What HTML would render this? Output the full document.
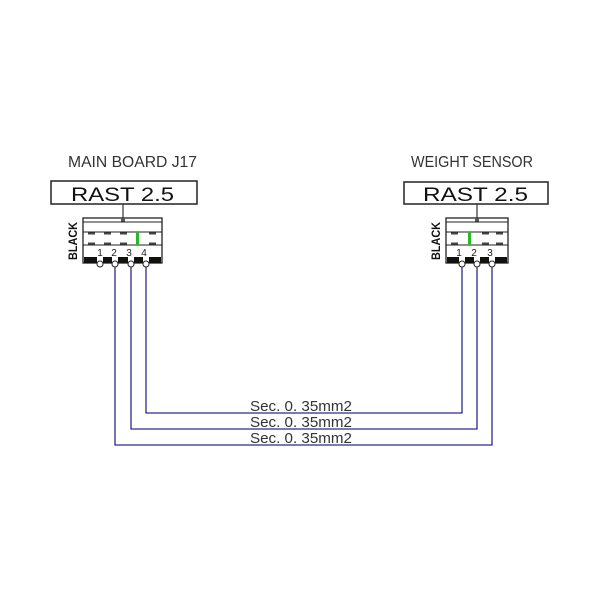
<!DOCTYPE html>
<html><head><meta charset="utf-8"><style>
html,body{margin:0;padding:0;background:#fff;}
svg{display:block;}
text{font-family:"Liberation Sans",sans-serif;}
</style></head><body>
<svg width="600" height="600" viewBox="0 0 600 600" xmlns="http://www.w3.org/2000/svg">
<rect width="600" height="600" fill="#fff"/>
<!-- titles -->
<text x="68" y="167" font-size="16" fill="#333" textLength="129" lengthAdjust="spacingAndGlyphs">MAIN BOARD J17</text>
<text x="411" y="167" font-size="16" fill="#333" textLength="122" lengthAdjust="spacingAndGlyphs">WEIGHT SENSOR</text>
<!-- RAST boxes -->
<rect x="51" y="181" width="146" height="23" fill="#fff" stroke="#222" stroke-width="1.5"/>
<text x="71" y="201" font-size="19" fill="#111" textLength="103" lengthAdjust="spacingAndGlyphs">RAST 2.5</text>
<rect x="404" y="182" width="144" height="22" fill="#fff" stroke="#222" stroke-width="1.5"/>
<text x="423" y="201" font-size="19" fill="#111" textLength="105" lengthAdjust="spacingAndGlyphs">RAST 2.5</text>
<!-- left connector -->
<line x1="123" y1="204" x2="123" y2="218" stroke="#333" stroke-width="1.2"/>
<rect x="83" y="218" width="79" height="45" fill="#fff" stroke="#222" stroke-width="1.3"/>
<rect x="121" y="218" width="4" height="4" fill="#555"/>
<line x1="83" y1="222" x2="162" y2="222" stroke="#222" stroke-width="1"/>
<line x1="83" y1="232" x2="162" y2="232" stroke="#222" stroke-width="1"/>
<line x1="83" y1="245" x2="162" y2="245" stroke="#222" stroke-width="1"/>
<g stroke="#444" stroke-width="2">
<line x1="88" y1="233.5" x2="95" y2="233.5"/><line x1="104" y1="233.5" x2="111" y2="233.5"/><line x1="120" y1="233.5" x2="127" y2="233.5"/><line x1="149" y1="233.5" x2="156" y2="233.5"/>
<line x1="88" y1="243.5" x2="95" y2="243.5"/><line x1="104" y1="243.5" x2="111" y2="243.5"/><line x1="120" y1="243.5" x2="127" y2="243.5"/><line x1="149" y1="243.5" x2="156" y2="243.5"/>
</g>
<rect x="136" y="232" width="3" height="13" fill="#2db52d"/>
<g font-family="Liberation Serif,serif" font-size="10" fill="#222" text-anchor="middle">
<text x="100" y="256">1</text><text x="114" y="256">2</text><text x="129" y="256">3</text><text x="144" y="256">4</text>
</g>
<rect x="84" y="257" width="77" height="6" fill="#111"/>
<g fill="#fff"><rect x="97" y="257" width="6" height="6"/><rect x="112" y="257" width="6" height="6"/><rect x="128" y="257" width="6" height="6"/><rect x="143" y="257" width="6" height="6"/></g>
<g fill="#fff" stroke="#222" stroke-width="1"><circle cx="100" cy="264" r="3"/><circle cx="115" cy="264" r="3"/><circle cx="131" cy="264" r="3"/><circle cx="146" cy="264" r="3"/></g>
<text transform="translate(77,241) rotate(-90)" font-size="12" font-weight="bold" fill="#111" text-anchor="middle" textLength="38" lengthAdjust="spacingAndGlyphs">BLACK</text>
<!-- right connector -->
<line x1="477" y1="204" x2="477" y2="218" stroke="#333" stroke-width="1.2"/>
<rect x="446" y="218" width="62" height="45" fill="#fff" stroke="#222" stroke-width="1.3"/>
<rect x="475" y="218" width="4" height="4" fill="#555"/>
<line x1="446" y1="222" x2="508" y2="222" stroke="#222" stroke-width="1"/>
<line x1="446" y1="232" x2="508" y2="232" stroke="#222" stroke-width="1"/>
<line x1="446" y1="245" x2="508" y2="245" stroke="#222" stroke-width="1"/>
<g stroke="#444" stroke-width="2">
<line x1="451" y1="233.5" x2="458" y2="233.5"/><line x1="482" y1="233.5" x2="489" y2="233.5"/><line x1="496" y1="233.5" x2="503" y2="233.5"/>
<line x1="451" y1="243.5" x2="458" y2="243.5"/><line x1="482" y1="243.5" x2="489" y2="243.5"/><line x1="496" y1="243.5" x2="503" y2="243.5"/>
</g>
<rect x="468" y="232" width="3" height="13" fill="#2db52d"/>
<g font-family="Liberation Serif,serif" font-size="10" fill="#222" text-anchor="middle">
<text x="459" y="256">1</text><text x="474" y="256">2</text><text x="490" y="256">3</text>
</g>
<rect x="447" y="257" width="60" height="6" fill="#111"/>
<g fill="#fff"><rect x="459" y="257" width="6" height="6"/><rect x="474" y="257" width="6" height="6"/><rect x="489" y="257" width="6" height="6"/></g>
<g fill="#fff" stroke="#222" stroke-width="1"><circle cx="462" cy="264" r="3"/><circle cx="477" cy="264" r="3"/><circle cx="492" cy="264" r="3"/></g>
<text transform="translate(440,241) rotate(-90)" font-size="12" font-weight="bold" fill="#111" text-anchor="middle" textLength="38" lengthAdjust="spacingAndGlyphs">BLACK</text>
<!-- wires -->
<g fill="none" stroke="#2b2b8a" stroke-width="1.3">
<polyline points="146,267 146,413 462,413 462,267"/>
<polyline points="131,267 131,429 477,429 477,267"/>
<polyline points="115,267 115,445 492,445 492,267"/>
</g>
<g font-size="15" fill="#333">
<text x="250" y="411" textLength="102" lengthAdjust="spacingAndGlyphs">Sec. 0. 35mm2</text>
<text x="250" y="427" textLength="102" lengthAdjust="spacingAndGlyphs">Sec. 0. 35mm2</text>
<text x="250" y="443" textLength="102" lengthAdjust="spacingAndGlyphs">Sec. 0. 35mm2</text>
</g>
</svg>
</body></html>
